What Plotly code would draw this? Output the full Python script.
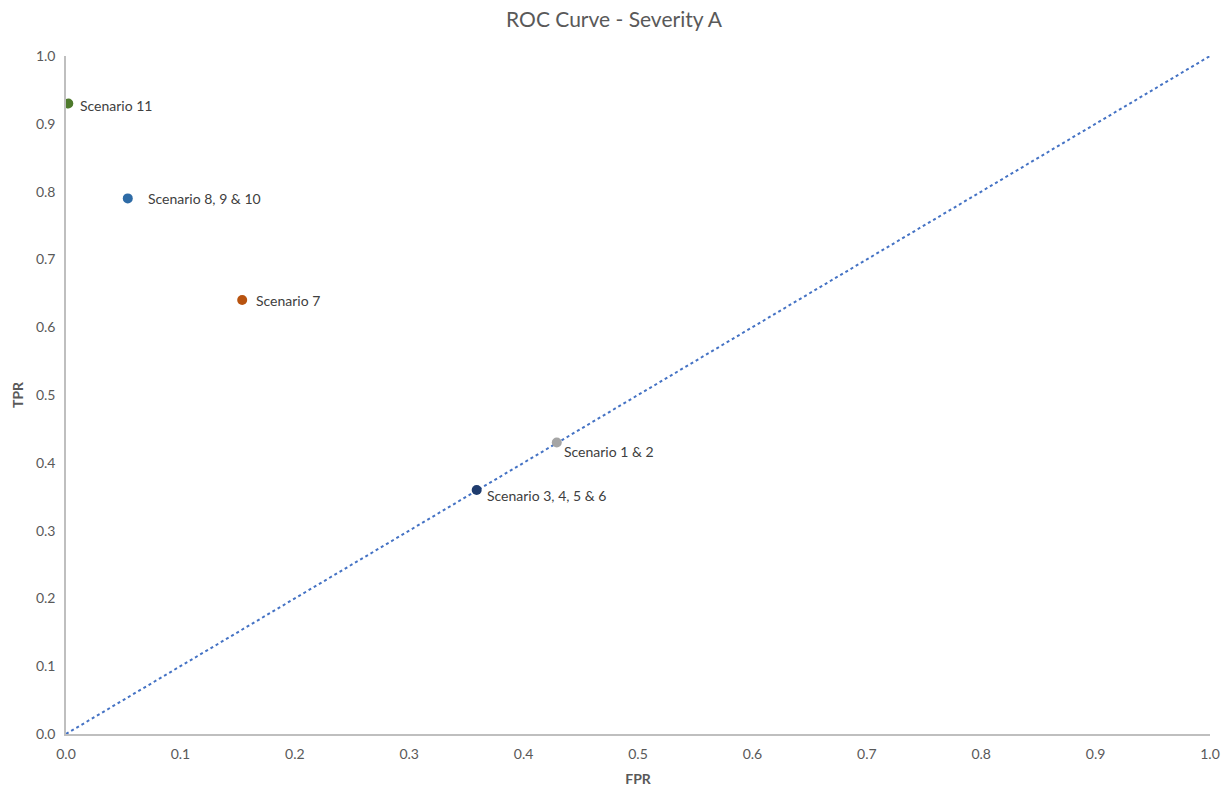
import plotly.graph_objects as go

# ROC points per scenario group
scenarios = ["Scenario 11", "Scenario 8, 9 & 10", "Scenario 7", "Scenario 1 & 2", "Scenario 3, 4, 5 & 6"]
fpr = [0.002, 0.054, 0.154, 0.429, 0.359]
tpr = [0.93, 0.79, 0.64, 0.43, 0.36]
colors = ["#4E7A2C", "#2E6BA6", "#B8530F", "#A5A5A5", "#1F3C6E"]
# label offsets (px) relative to each marker
label_dx = [10, 18, 12, 5, 8]
label_dy = [-2, 0, 0, -9, -6]

# chance line
chance_x = [0.0, 1.0]
chance_y = [0.0, 1.0]

ticks = [round(i / 10, 1) for i in range(11)]
tick_text = [f"{t:.1f}" for t in ticks]

font_family = "Lato, 'Open Sans', sans-serif"
grey = "#595959"

fig = go.Figure()
fig.add_trace(go.Scatter(
    x=chance_x, y=chance_y, mode="lines",
    line=dict(color="#4472C4", width=2, dash="dot"),
    hoverinfo="skip", showlegend=False,
))
for name, x, y, c in zip(scenarios, fpr, tpr, colors):
    fig.add_trace(go.Scatter(
        x=[x], y=[y], mode="markers", name=name,
        marker=dict(color=c, size=10),
        showlegend=False,
    ))

for name, x, y, dx, dy in zip(scenarios, fpr, tpr, label_dx, label_dy):
    fig.add_annotation(
        x=x, y=y, text=name, showarrow=False,
        xanchor="left", yanchor="middle", xshift=dx, yshift=dy,
        font=dict(family=font_family, size=14, color="#404040"),
    )

# y-axis title placed as a rotated annotation
fig.add_annotation(
    xref="paper", yref="paper", x=0, y=0.5, xshift=-49,
    text="<b>TPR</b>", textangle=-90, showarrow=False,
    xanchor="center", yanchor="middle",
    font=dict(family=font_family, size=14, color=grey),
)

fig.update_layout(
    width=1228, height=787,
    paper_bgcolor="white", plot_bgcolor="white",
    margin=dict(l=66, r=18, t=56, b=53, autoexpand=False),
    title=dict(
        text="ROC Curve - Severity A", x=0.5, xanchor="center",
        y=0.975, yanchor="middle",
        font=dict(family=font_family, size=21, color=grey),
    ),
    font=dict(family=font_family, color=grey),
)
fig.update_xaxes(
    range=[0, 1], tickvals=ticks, ticktext=tick_text,
    showgrid=False, zeroline=False, automargin=False,
    showline=True, linecolor="#BFBFBF", linewidth=1.5,
    ticks="outside", ticklen=6, tickcolor="rgba(0,0,0,0)",
    tickfont=dict(size=14, color=grey),
    title=dict(text="<b>FPR</b>", font=dict(size=14, color=grey)),
)
fig.update_yaxes(
    range=[0, 1], tickvals=ticks, ticktext=tick_text,
    showgrid=False, zeroline=False, automargin=False,
    showline=True, linecolor="#BFBFBF", linewidth=1.5,
    ticks="outside", ticklen=6, tickcolor="rgba(0,0,0,0)",
    tickfont=dict(size=14, color=grey),
)

fig.write_html("out.html")
